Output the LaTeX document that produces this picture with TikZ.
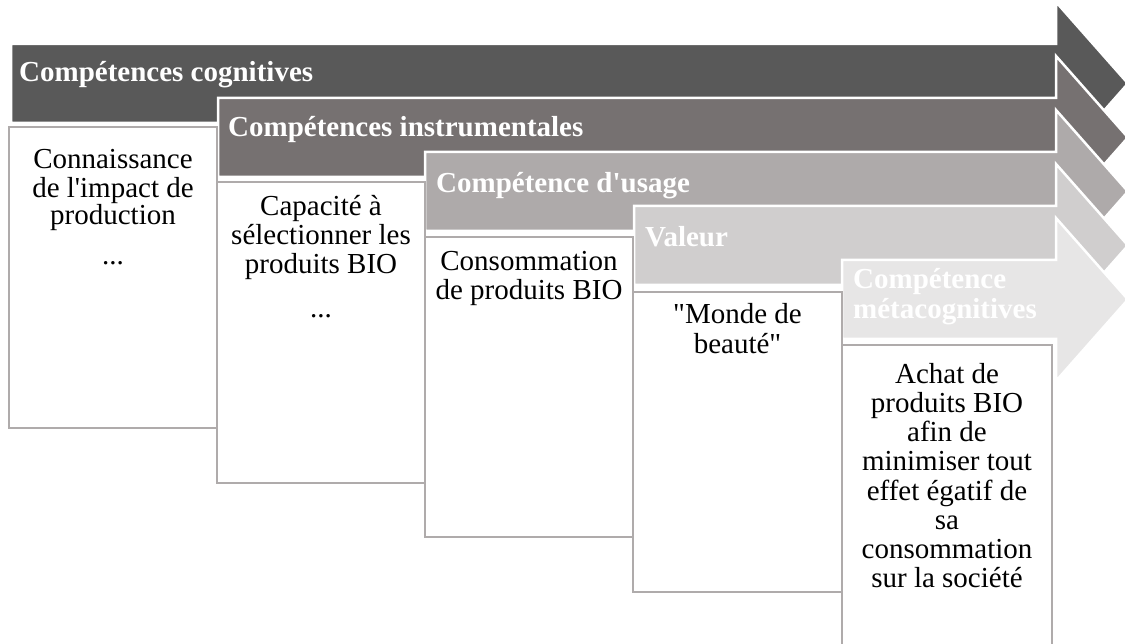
\documentclass[tikz,border=0pt]{standalone}
\usepackage{fontspec}
\setmainfont{Liberation Serif}

\definecolor{stepA}{HTML}{595959}
\definecolor{stepB}{HTML}{767171}
\definecolor{stepC}{HTML}{AEAAAA}
\definecolor{stepD}{HTML}{D0CECE}
\definecolor{stepE}{HTML}{E7E6E6}
\definecolor{boxline}{HTML}{AFABAB}

\tikzset{
  stagearrow/.style={draw=white, line width=2.5pt, line join=miter},
  stagebox/.style={draw=boxline, line width=2pt, fill=white},
  stagetitle/.style={text=white, font=\fontsize{29}{28}\selectfont\bfseries, inner sep=0pt},
  stagetext/.style={align=center, inner sep=0pt, anchor=north}
}

\begin{document}
\begin{tikzpicture}[x=1pt, y=-1pt]
\useasboundingbox (0,0) rectangle (1125,644);
\clip (0,0) rectangle (1125,644);

% arrows, back to front
\draw[stagearrow, fill=stepA] (11,44) -- (1056,44) -- (1056,2) -- (1128,83.5) -- (1056,165) -- (1056,123) -- (11,123) -- cycle;
\draw[stagearrow, fill=stepB] (218,98) -- (1056,98) -- (1056,56) -- (1128,137.5) -- (1056,219) -- (1056,177) -- (218,177) -- cycle;
\draw[stagearrow, fill=stepC] (425,152) -- (1056,152) -- (1056,110) -- (1128,191.5) -- (1056,273) -- (1056,231) -- (425,231) -- cycle;
\draw[stagearrow, fill=stepD] (634,206) -- (1056,206) -- (1056,164) -- (1128,245.5) -- (1056,327) -- (1056,285) -- (634,285) -- cycle;
\draw[stagearrow, fill=stepE] (842,260) -- (1056,260) -- (1056,218) -- (1128,299.5) -- (1056,381) -- (1056,339) -- (842,339) -- cycle;

\node[stagetitle, anchor=base west] (cognitive) at (19,82) {Compétences cognitives};
\node[stagetitle, anchor=base west] (instrumental) at (228,137) {Compétences instrumentales};
\node[stagetitle, anchor=base west] (usage) at (436,193) {Compétence d\textquotesingle usage};
\node[stagetitle, anchor=base west] (value) at (645,247) {Valeur};
\node[stagetitle, anchor=north west, align=left] (metacognitive) at (853,268.4) {\strut Compétence\\métacognitives};

% text boxes
\draw[stagebox] (9,127) rectangle (217,428);
\draw[stagebox] (217,182) rectangle (425,483);
\draw[stagebox] (425,237) rectangle (633,537);
\draw[stagebox] (633,292) rectangle (842,592);
\draw[stagebox] (842,345) rectangle (1052,648);

\node[stagetext, font=\fontsize{29}{26.7}\selectfont] (knowledge) at (113,149.3)
  {\strut Connaissance\\de l\textquotesingle impact de\\production\\[13pt]...};
\node[stagetext, font=\fontsize{29}{29}\selectfont] (capacity) at (321,194.7)
  {\strut Capacité à\\sélectionner les\\produits BIO\\[15pt]...};
\node[stagetext, font=\fontsize{29}{28}\selectfont] (consumption) at (529,250.4)
  {\strut Consommation\\de produits BIO};
\node[stagetext, font=\fontsize{29}{28}\selectfont] (beauty) at (737.5,303.4)
  {\strut \textquotedbl Monde de\\beauté\textquotedbl};
\node[stagetext, font=\fontsize{29}{29.2}\selectfont] (purchase) at (947,362.6)
  {\strut Achat de\\produits BIO\\afin de\\minimiser tout\\effet égatif de\\sa\\consommation\\sur la société};

\end{tikzpicture}
\end{document}
